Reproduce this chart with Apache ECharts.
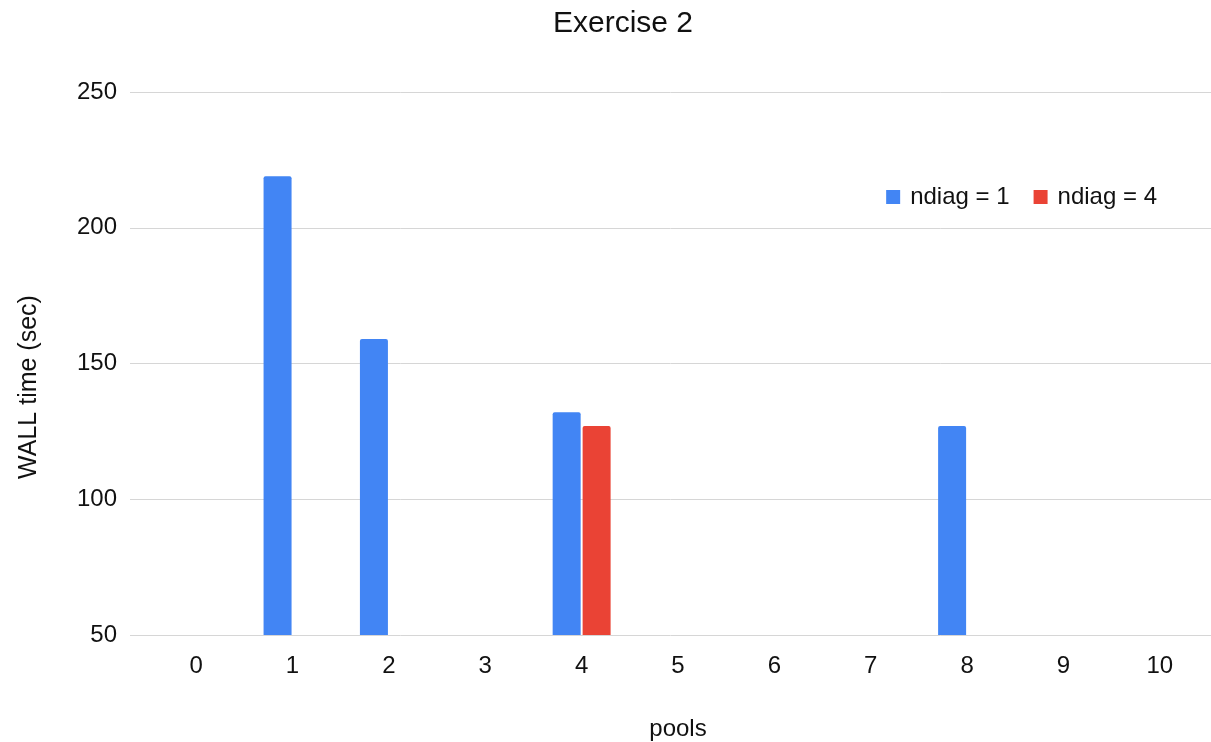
<!DOCTYPE html>
<html>
<head>
<meta charset="utf-8">
<title>Exercise 2</title>
<script src="https://cdn.jsdelivr.net/npm/echarts@6/dist/echarts.min.js"></script>
<style>
  html, body { margin: 0; padding: 0; background: #fff; }
  #chart { width: 1211px; height: 742px; }
</style>
</head>
<body>
<div id="chart"></div>
<script>
// Pools tested on the x axis
const pools = ['0', '1', '2', '3', '4', '5', '6', '7', '8', '9', '10'];
// WALL time (sec) per pool count; null where no run was made
const ndiag1 = [null, 219, 159, null, 132, null, null, null, 127, null, null];
const ndiag4 = [null, null, null, null, 127, null, null, null, null, null, null];
const yTicks = [50, 100, 150, 200, 250];

const FONT = '"Liberation Sans", Arial, sans-serif';
const TEXT = '#111111';

const chart = echarts.init(document.getElementById('chart'), null, { renderer: 'canvas' });

const yMin = yTicks[0];
const yMax = yTicks[yTicks.length - 1];
const yStep = yTicks[1] - yTicks[0];

chart.setOption({
  animation: false,
  backgroundColor: '#ffffff',
  title: {
    text: 'Exercise 2',
    left: 618,
    top: 4,
    textAlign: 'center',
    textStyle: { fontFamily: FONT, fontSize: 30, fontWeight: 'normal', color: TEXT }
  },
  legend: {
    right: 49,
    top: 180,
    itemWidth: 14,
    itemHeight: 14,
    itemGap: 24,
    icon: 'rect',
    textStyle: { fontFamily: FONT, fontSize: 24, color: TEXT, padding: [0, 0, 0, 5] },
    data: ['ndiag = 1', 'ndiag = 4']
  },
  graphic: [{
    type: 'text',
    x: 29,
    y: 387,
    rotation: Math.PI / 2,
    style: {
      text: 'WALL time (sec)',
      fontFamily: FONT,
      fontSize: 25,
      fill: TEXT,
      align: 'center',
      verticalAlign: 'middle'
    }
  }],
  grid: [
    // gridlines and value labels
    { left: 130, right: 0, top: 92, bottom: 107, containLabel: false, outerBoundsMode: 'none' },
    // bar area with category bands
    { left: 148, right: 3, top: 92, bottom: 107, containLabel: false, outerBoundsMode: 'none' }
  ],
  xAxis: [
    { gridIndex: 0, type: 'category', data: pools, show: false },
    {
      gridIndex: 1,
      type: 'category',
      data: pools,
      name: 'pools',
      nameLocation: 'middle',
      nameGap: 82,
      nameTextStyle: { fontFamily: FONT, fontSize: 24, color: TEXT },
      axisLine: { show: false },
      axisTick: { show: false },
      axisLabel: { fontFamily: FONT, fontSize: 24, color: TEXT, margin: 19 }
    }
  ],
  yAxis: [
    {
      gridIndex: 0,
      type: 'value',
      min: yMin,
      max: yMax,
      interval: yStep,
      axisLine: { show: false },
      axisTick: { show: false },
      axisLabel: { fontFamily: FONT, fontSize: 24, color: TEXT, margin: 13 },
      splitLine: { lineStyle: { color: '#d6d6d6', width: 1 } }
    },
    {
      gridIndex: 1,
      type: 'value',
      min: yMin,
      max: yMax,
      interval: yStep,
      show: false,
      splitLine: { show: false }
    }
  ],
  series: [
    {
      name: 'ndiag = 1',
      type: 'bar',
      xAxisIndex: 1,
      yAxisIndex: 1,
      data: ndiag1,
      barWidth: 28,
      barGap: '7%',
      itemStyle: { color: '#4285F4', borderRadius: [2, 2, 0, 0] }
    },
    {
      name: 'ndiag = 4',
      type: 'bar',
      xAxisIndex: 1,
      yAxisIndex: 1,
      data: ndiag4,
      barWidth: 28,
      barGap: '7%',
      itemStyle: { color: '#EA4335', borderRadius: [2, 2, 0, 0] }
    }
  ]
});
</script>
</body>
</html>
